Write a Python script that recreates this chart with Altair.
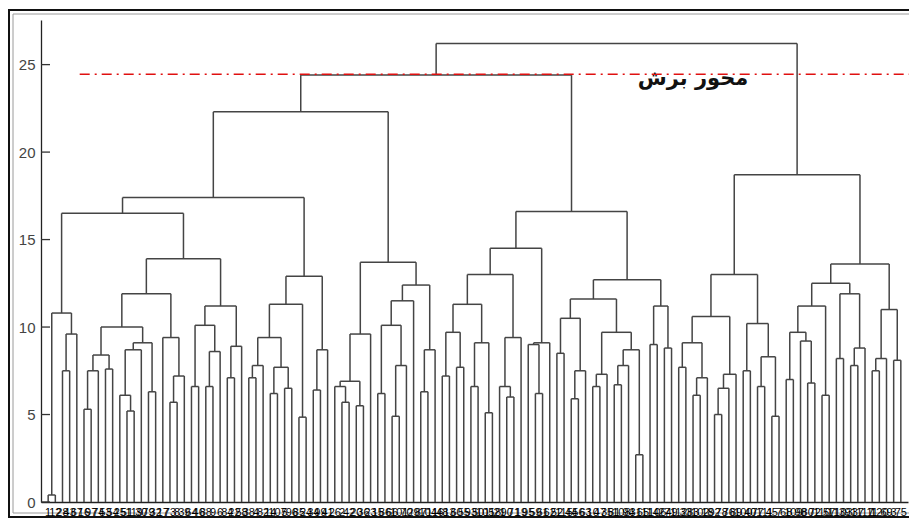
import altair as alt
import pandas as pd

# ---- dendrogram structure: [merge height, left, right]; ints are leaf positions 1..120
A1 = [10.8, [0.4, 1, 2], [9.6, [7.5, 3, 4], 5]]
A2 = [10.0, [8.4, [7.5, [5.3, 6, 7], 8], [7.6, 9, 10]],
      [9.1, [8.7, [6.1, 11, [5.2, 12, 13]], 14], [6.3, 15, 16]]]
A3 = [9.4, 17, [7.2, [5.7, 18, 19], 20]]
A4 = [11.2, [10.1, [6.6, 21, 22], [8.6, [6.6, 23, 24], 25]], [8.9, [7.1, 26, 27], 28]]
A = [16.5, A1, [13.9, [11.9, A2, A3], A4]]
B = [12.9, [11.3, [9.4, [7.8, [7.1, 29, 30], 31], [7.7, [6.2, 32, 33], [6.5, 34, 35]]], [4.85, 36, 37]],
     [8.7, [6.4, 38, 39], 40]]
C = [13.7, [9.6, [6.9, [6.6, 41, [5.7, 42, 43]], [5.5, 44, 45]], 46],
     [12.4, [11.5, [10.1, [6.2, 47, 48], [7.8, [4.9, 49, 50], 51]], 52], [8.7, [6.3, 53, 54], 55]]]
D = [14.5, [13.0, [11.3, [9.7, [7.2, 56, 57], [7.7, 58, 59]], [9.1, [6.6, 60, 61], [5.1, 62, 63]]],
            [9.4, [6.6, 64, [6.0, 65, 66]], 67]],
     [9.1, [9.0, 68, [6.2, 69, 70]], 71]]
E = [12.7, [11.6, [10.5, [8.5, 72, 73], [7.5, [5.9, 74, 75], 76]],
            [9.7, [7.3, [6.6, 77, 78], 79], [8.7, [7.8, [6.7, 80, 81], 82], [2.7, 83, 84]]]],
     [11.2, [9.0, 85, 86], [8.8, 87, 88]]]
F = [13.0, [10.6, [9.1, [7.7, 89, 90], [7.1, [6.1, 91, 92], 93]], [7.3, [6.5, [5.0, 94, 95], 96], 97]],
     [10.2, [7.5, 98, 99], [8.3, [6.6, 100, 101], [4.9, 102, 103]]]]
G = [13.6, [12.5, [11.2, [9.7, [7.0, 104, 105], [9.2, 106, [6.8, 107, 108]]], [6.1, 109, 110]],
            [11.9, [8.2, 111, 112], [8.8, [7.8, 113, 114], 115]]],
     [11.0, [8.2, [7.5, 116, 117], 118], [8.1, 119, 120]]]
LEFT = [24.4, [22.3, [17.4, A, B], C], [16.6, D, E]]
RIGHT = [18.7, F, G]
ROOT = [26.2, LEFT, RIGHT]

leaf_labels = ["1", "12", "28", "43", "67", "16", "97", "74", "53", "54",
               "25", "51", "119", "30", "79", "32", "17", "73", "8", "39",
               "64", "46", "88", "9", "6", "84", "22", "58", "38", "4",
               "82", "14", "107", "5", "96", "85", "24", "34", "99", "41",
               "26", "2", "42", "20", "36", "23", "15", "86", "66", "101",
               "70", "29", "87", "104", "116", "48", "13", "60", "55", "93",
               "50", "105", "118", "21", "90", "71", "19", "95", "59", "61",
               "62", "52", "115", "44", "56", "63", "10", "47", "35", "81",
               "108", "94", "31", "65", "114", "106", "27", "49", "112", "33",
               "83", "102", "18", "92", "78", "76", "89", "100", "40", "77",
               "111", "45", "7", "68", "109", "98", "80", "72", "110", "57",
               "113", "103", "91", "37", "117", "11", "120", "69", "3", "75"]

y_ticks = [0, 5, 10, 15, 20, 25]
cut_height = 24.45
cut_label = "محور برش"

# ---- build segments from the tree
segs = []


def walk(node):
    if isinstance(node, int):
        return float(node), 0.0
    h, a, b = node
    xa, ha = walk(a)
    xb, hb = walk(b)
    segs.append({"x": xa, "y": ha, "x2": xa, "y2": h})
    segs.append({"x": xb, "y": hb, "x2": xb, "y2": h})
    segs.append({"x": xa, "y": h, "x2": xb, "y2": h})
    return (xa + xb) / 2, h


walk(ROOT)
seg_df = pd.DataFrame(segs)
n = len(leaf_labels)
lab_df = pd.DataFrame({"pos": list(range(1, n + 1)), "label": leaf_labels})

W, H = 867, 482
xs = alt.Scale(domain=[0, n + 1], nice=False, zero=False)
ys = alt.Scale(domain=[0, 27.55], nice=False)

lines = alt.Chart(seg_df).mark_rule(color="#444444", strokeWidth=1.5).encode(
    x=alt.X("x:Q", scale=xs, axis=alt.Axis(title=None, labels=False, ticks=False, grid=False,
                                           domainColor="#222222", domainWidth=1.3)),
    x2="x2:Q",
    y=alt.Y("y:Q", scale=ys, axis=alt.Axis(title=None, values=y_ticks, ticks=False, grid=False,
                                           labelFontSize=15, labelColor="#444444", labelPadding=6,
                                           labelFont="Liberation Sans",
                                           domainColor="#222222", domainWidth=1.3)),
    y2="y2:Q",
)

ytick = alt.Chart(pd.DataFrame({"v": y_ticks})).mark_rule(color="#333333", strokeWidth=1.3).encode(
    y=alt.Y("v:Q", scale=ys), x=alt.value(0), x2=alt.value(9))

labels = alt.Chart(lab_df).mark_text(fontSize=11, font="Liberation Sans", color="#000000",
                                     baseline="middle").encode(
    x=alt.X("pos:Q", scale=xs), y=alt.value(H + 11), text="label:N")

cut = alt.Chart(pd.DataFrame({"x": [5.4], "x2": [124], "y": [cut_height]})).mark_rule(
    color="#e01010", strokeWidth=1.3, strokeDash=[10, 5, 2, 5]).encode(
    x=alt.X("x:Q", scale=xs), x2="x2:Q", y=alt.Y("y:Q", scale=ys))

cut_text = alt.Chart(pd.DataFrame({"x": [91.0], "y": [24.15], "t": [cut_label]})).mark_text(
    fontSize=21, font="DejaVu Sans", fontWeight="bold", color="#111111").encode(
    x=alt.X("x:Q", scale=xs), y=alt.Y("y:Q", scale=ys), text="t:N")

frame_df = pd.DataFrame({"k": [0]})
frame_outer = alt.Chart(frame_df).mark_rect(filled=False, stroke="#111111", strokeWidth=2).encode(
    x=alt.value(-32), x2=alt.value(900), y=alt.value(-10), y2=alt.value(497))
frame_inner = alt.Chart(frame_df).mark_rect(filled=False, stroke="#9a9a9a", strokeWidth=1).encode(
    x=alt.value(-28), x2=alt.value(900), y=alt.value(-6), y2=alt.value(493))

chart = alt.layer(frame_outer, frame_inner, lines, ytick, cut, cut_text, labels).properties(
    width=W, height=H,
    padding={"left": 33, "top": 12, "right": 1, "bottom": 17},
    autosize=alt.AutoSizeParams(type="none"),
).configure_view(stroke=None)

chart.save("out.html", embed_options={"renderer": "svg", "actions": False})
